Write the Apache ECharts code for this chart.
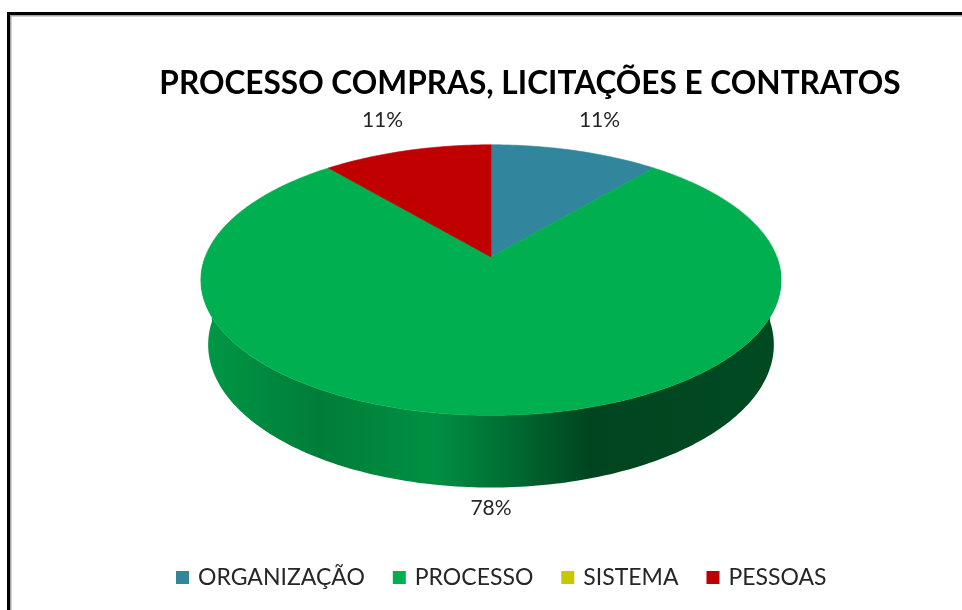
<!DOCTYPE html>
<html>
<head>
<meta charset="utf-8">
<script src="https://cdn.jsdelivr.net/npm/echarts@6/dist/echarts.min.js"></script>
<style>
html, body { margin: 0; padding: 0; background: #fff; }
#chart { width: 962px; height: 610px; }
</style>
</head>
<body>
<div id="chart"></div>
<script>
const titleText = 'PROCESSO COMPRAS, LICITAÇÕES E CONTRATOS';
const categories = ['ORGANIZAÇÃO', 'PROCESSO', 'SISTEMA', 'PESSOAS'];
const values = [1, 7, 0, 1];
const colors = ['#31859C', '#00B050', '#C8C800', '#C00000'];

// 透视相机参数（像 Excel 的三维饼图）
const view = { cx: 491, cy: 257, fx: 1475, fy: 1425, dist: 5.16, elev: 28.4 * Math.PI / 180, depth: 0.27 };
// 侧面明暗（相对基色的系数，从左到右）
const sideShade = [[0, 0.86], [0.2, 0.71], [0.4, 0.82], [0.53, 0.62], [0.67, 0.39], [1, 0.42]];

const total = values.reduce((a, b) => a + b, 0);
const starts = [];
let acc = 0;
values.forEach(v => { starts.push(acc / total * 360); acc += v; });

function project(x, y, z) {
    const s = Math.sin(view.elev), c = Math.cos(view.elev);
    const d = view.dist + y * c - z * s;
    return [view.cx + view.fx * x / d, view.cy - view.fy * (y * s + z * c) / d];
}

// 角度从 12 点方向顺时针
function rim(deg, r, z) {
    const a = deg * Math.PI / 180;
    return project(r * Math.sin(a), r * Math.cos(a), z);
}

function arc(a0, a1, r, z) {
    const n = Math.max(2, Math.ceil(a1 - a0));
    const pts = [];
    for (let k = 0; k <= n; k++) pts.push(rim(a0 + (a1 - a0) * k / n, r, z));
    return pts;
}

function shade(hex, k) {
    const r = Math.round(parseInt(hex.slice(1, 3), 16) * k);
    const g = Math.round(parseInt(hex.slice(3, 5), 16) * k);
    const b = Math.round(parseInt(hex.slice(5, 7), 16) * k);
    return `rgb(${r}, ${g}, ${b})`;
}

function renderSlice(params, api) {
    const i = params.seriesIndex;
    const v = values[i];
    const children = [];
    if (!v) return { type: 'group', children };

    const a0 = starts[i], a1 = a0 + v / total * 360;
    const color = colors[i];

    // 前侧面
    const s0 = Math.max(a0, 90), s1 = Math.min(a1, 270);
    if (s1 > s0) {
        const top = arc(s0, s1, 1, 0);
        const bottom = arc(s0, s1, 1, -view.depth).reverse();
        const left = rim(270, 1, 0)[0], right = rim(90, 1, 0)[0];
        children.push({
            type: 'polygon',
            z2: 1,
            shape: { points: top.concat(bottom) },
            style: {
                fill: new echarts.graphic.LinearGradient(left, 0, right, 0,
                    sideShade.map(([o, k]) => ({ offset: o, color: shade(color, k) })), true),
                stroke: null
            }
        });
    }

    // 顶面
    const face = [project(0, 0, 0)].concat(arc(a0, a1, 1, 0));
    children.push({
        type: 'polygon',
        z2: 10,
        shape: { points: face },
        style: { fill: color, stroke: color, lineWidth: 0.6 }
    });

    // 百分比标签
    const mid = (a0 + a1) / 2;
    const front = Math.cos(mid * Math.PI / 180) < 0;
    const p = front ? rim(mid, 1.1, -view.depth) : rim(mid, 1.35, 0);
    children.push({
        type: 'text',
        z2: 20,
        x: p[0],
        y: p[1],
        style: {
            text: Math.round(v / total * 100) + '%',
            fill: '#262626',
            font: '21px Lato',
            align: 'center',
            verticalAlign: 'middle'
        }
    });
    return { type: 'group', children };
}

const chart = echarts.init(document.getElementById('chart'), null, { renderer: 'canvas' });

chart.setOption({
    animation: false,
    color: colors,
    title: {
        text: titleText,
        left: 525,
        top: 63,
        textAlign: 'center',
        textStyle: { fontFamily: 'Lato', fontWeight: 'bold', fontSize: 31.6, color: '#000' }
    },
    legend: {
        data: categories,
        left: 171,
        top: 561,
        icon: 'rect',
        itemWidth: 13,
        itemHeight: 13,
        itemGap: 28,
        textStyle: { fontFamily: 'Lato', fontSize: 23, color: '#262626', padding: [0, 0, 0, 4] }
    },
    graphic: [
        { type: 'rect', shape: { x: 8.5, y: 13.5, width: 1000, height: 700 }, style: { fill: null, stroke: '#000', lineWidth: 3 } },
        { type: 'rect', shape: { x: 10.75, y: 15.75, width: 1000, height: 700 }, style: { fill: null, stroke: '#a6a6a6', lineWidth: 1.5 } }
    ],
    series: categories.map((name, i) => ({
        type: 'custom',
        name,
        coordinateSystem: 'none',
        renderItem: renderSlice,
        itemStyle: { color: colors[i] },
        data: [values[i]],
        silent: true
    }))
});
</script>
</body>
</html>
